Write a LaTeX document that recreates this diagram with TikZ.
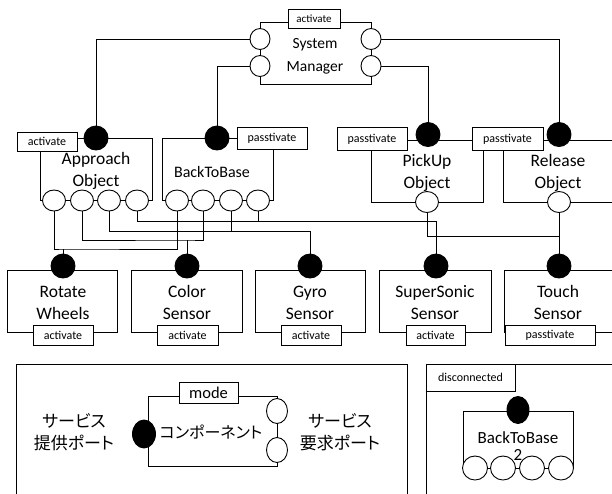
\documentclass[tikz,border=0pt]{standalone}
\usepackage{fontspec}
\setmainfont{Carlito}
\newfontfamily\jpfont[RawFeature=+palt]{Noto Sans CJK JP}
\usetikzlibrary{shapes.geometric,backgrounds}

\begin{document}
\begin{tikzpicture}[x=1pt, y=-1pt, line width=0.9pt,
  every node/.style={inner sep=0pt, outer sep=0pt},
  frame/.style={draw, anchor=north west},
  tag/.style={draw, fill=white, font=\fontsize{12}{14}\selectfont},
  reqport/.style={ellipse, draw, fill=white, minimum width=23pt, minimum height=21pt},
  provport/.style={ellipse, draw, fill=black, minimum width=24pt, minimum height=24pt},
  cname/.style={align=center, font=\fontsize{17.5}{22}\selectfont},
  jptext/.style={align=center, font=\jpfont\fontsize{17}{22}\selectfont}]

\useasboundingbox (0,0) rectangle (612,493);
\clip (0,0) rectangle (612,493);

% ---------- component frames ----------
\node[frame, minimum width=111pt, minimum height=62pt] (sm) at (260,22) {};
\node[frame, minimum width=112pt, minimum height=62.5pt] (ao) at (40,138) {};
\node[frame, minimum width=111pt, minimum height=62.5pt] (btb) at (162,138) {};
\node[frame, minimum width=112pt, minimum height=62pt] (pu) at (371,140) {};
\node[frame, minimum width=130pt, minimum height=62pt] (rel) at (503,140) {};
\node[frame, minimum width=110pt, minimum height=62pt] (rw) at (7,270) {};
\node[frame, minimum width=111pt, minimum height=62pt] (cs) at (131,270) {};
\node[frame, minimum width=110pt, minimum height=62pt] (gs) at (255,270) {};
\node[frame, minimum width=112pt, minimum height=62pt] (ss) at (379,270) {};
\node[frame, minimum width=130pt, minimum height=62pt] (ts) at (504,270) {};

% legend panels
\node[frame, minimum width=391pt, minimum height=140pt] (lg) at (16,364) {};
\node[frame, minimum width=200pt, minimum height=140pt] (dc) at (426,364) {};
\node[frame, minimum width=129pt, minimum height=70pt] (lgc) at (148,396) {};
\node[frame, minimum width=110pt, minimum height=57pt] (btb2) at (463,411) {};

% ---------- bends of the wiring buses ----------
\coordinate (j1) at (63,249);
\coordinate (j2) at (187,240);
\coordinate (j3) at (231,231);
\coordinate (j4) at (258,221);
\coordinate (j5) at (559,236);

% ---------- ports ----------
% System Manager
\node[reqport, minimum width=20pt, minimum height=21pt] (sm-l1) at (260,39) {};
\node[reqport, minimum width=20pt, minimum height=21pt] (sm-l2) at (260,66) {};
\node[reqport, minimum width=20pt, minimum height=21pt] (sm-r1) at (371,39) {};
\node[reqport, minimum width=20pt, minimum height=21pt] (sm-r2) at (371,66) {};
% second row
\node[provport] (ao-in) at (96,138) {};
\node[reqport] (ao-r1) at (54,200.5) {};
\node[reqport] (ao-r2) at (82,200.5) {};
\node[reqport] (ao-r3) at (109,200.5) {};
\node[reqport] (ao-r4) at (137,200.5) {};
\node[provport] (btb-in) at (217,138) {};
\node[reqport] (btb-r1) at (177,200.5) {};
\node[reqport] (btb-r2) at (203,200.5) {};
\node[reqport] (btb-r3) at (231,200.5) {};
\node[reqport] (btb-r4) at (258,200.5) {};
\node[provport] (pu-in) at (428,134.5) {};
\node[reqport] (pu-out) at (427,202) {};
\node[provport] (rel-in) at (559,134.5) {};
\node[reqport] (rel-out) at (559,202) {};
% sensors and actuators
\node[provport] (rw-in) at (63,266) {};
\node[provport] (cs-in) at (187,266) {};
\node[provport] (gs-in) at (310,266) {};
\node[provport] (ss-in) at (436,266) {};
\node[provport] (ts-in) at (559,266) {};

% ---------- wiring (behind the ports) ----------
\begin{scope}[on background layer]
\draw (sm-l1) -| (ao-in);
\draw (sm-l2) -| (btb-in);
\draw (sm-r1) -| (rel-in);
\draw (sm-r2) -| (pu-in);

\draw (ao-r1) |- (j1) -| (btb-r1);
\draw (j1) -- (rw-in);
\draw (ao-r2) |- (j2) -| (btb-r2);
\draw (j2) -- (cs-in);
\draw (ao-r3) |- (j3) -- (btb-r3);
\draw (j3) -| (gs-in);
\draw (ao-r4) |- (j4) -- (btb-r4);
\draw (j4) -| (ss-in);
\draw (pu-out) |- (j5);
\draw (rel-out) -- (ts-in);
\end{scope}

% ---------- mode tags ----------
\node[tag, minimum width=52pt, minimum height=19pt, font=\fontsize{11}{13}\selectfont] (sm-mode) at (314,18.5) {activate};
\node[tag, minimum width=60pt, minimum height=19pt] (ao-mode) at (47,141.5) {activate};
\node[tag, minimum width=70pt, minimum height=22.5pt] (btb-mode) at (272,138.5) {passtivate};
\node[tag, minimum width=70pt, minimum height=23pt] (pu-mode) at (372,139) {passtivate};
\node[tag, minimum width=71pt, minimum height=23pt] (rel-mode) at (507.5,139) {passtivate};
\node[tag, minimum width=60pt, minimum height=20pt] (rw-mode) at (63,335) {activate};
\node[tag, minimum width=61pt, minimum height=20pt] (cs-mode) at (187.5,335) {activate};
\node[tag, minimum width=60pt, minimum height=20pt] (gs-mode) at (311,335) {activate};
\node[tag, minimum width=59pt, minimum height=20pt] (ss-mode) at (435.5,335) {activate};
\node[tag, minimum width=90pt, minimum height=20pt] (ts-mode) at (550,335) {passtivate};

% ---------- component names ----------
\node[cname, font=\fontsize{15.5}{23}\selectfont] (sm-name) at (315,56) {System\\Manager};
\node[cname] (ao-name) at (96,171) {Approach\\Object};
\node[cname, font=\fontsize{16}{20}\selectfont] (btb-name) at (212,172) {BackToBase};
\node[cname] (pu-name) at (427,172.5) {PickUp\\Object};
\node[cname] (rel-name) at (558,172.5) {Release\\Object};
\node[cname] (rw-name) at (63,302.5) {Rotate\\Wheels};
\node[cname] (cs-name) at (187,302.5) {Color\\Sensor};
\node[cname] (gs-name) at (310,302.5) {Gyro\\Sensor};
\node[cname] (ss-name) at (435,302.5) {SuperSonic\\Sensor};
\node[cname] (ts-name) at (558,302.5) {Touch\\Sensor};

% ---------- legend ----------
\node[tag, minimum width=59pt, minimum height=21pt, font=\fontsize{16.5}{18}\selectfont] (lg-mode) at (208.5,392.5) {mode};
\node[provport, minimum width=23pt, minimum height=28pt] (lg-prov) at (144,434) {};
\node[reqport, minimum width=21pt, minimum height=25pt] (lg-req1) at (277,411) {};
\node[reqport, minimum width=21pt, minimum height=25pt] (lg-req2) at (277,450) {};
\node[jptext, font=\jpfont\fontsize{16}{20}\selectfont] (lg-comp) at (211,432) {コンポーネント};
\node[jptext] (lg-provtext) at (74,432.5) {サービス\\提供ポート};
\node[jptext] (lg-reqtext) at (340,432.5) {サービス\\要求ポート};

\node[tag, minimum width=89pt, minimum height=27pt] (dc-mode) at (470.5,377.5) {disconnected};
\node[provport, minimum width=22pt, minimum height=27pt] (btb2-in) at (518,410) {};
\node[reqport, minimum width=25pt, minimum height=24pt] (btb2-r1) at (475,468) {};
\node[reqport, minimum width=25pt, minimum height=24pt] (btb2-r2) at (503,468) {};
\node[reqport, minimum width=25pt, minimum height=24pt] (btb2-r3) at (532,468) {};
\node[reqport, minimum width=25pt, minimum height=24pt] (btb2-r4) at (561,468) {};
\node[cname, font=\fontsize{17}{19}\selectfont] (btb2-name) at (518,438) {BackToBase};
\node[cname, font=\fontsize{17}{19}\selectfont] (btb2-num) at (518,455) {2};

\end{tikzpicture}
\end{document}
